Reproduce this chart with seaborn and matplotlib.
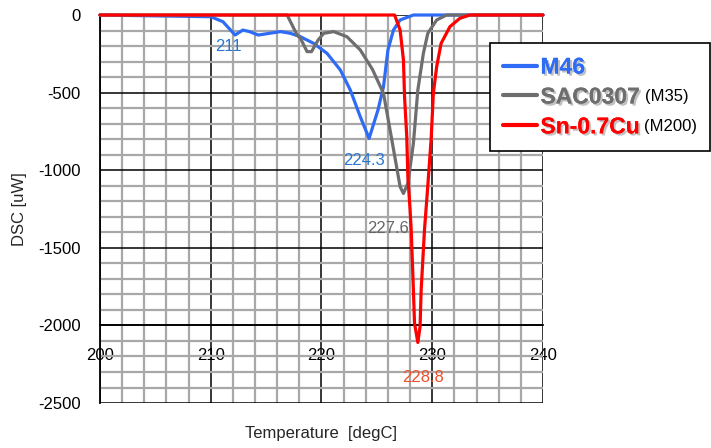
import pandas as pd
import matplotlib
matplotlib.use("Agg")
import matplotlib.pyplot as plt
import matplotlib.patheffects as pe
from matplotlib.lines import Line2D
from matplotlib.ticker import MultipleLocator
import seaborn as sns

# DSC curves (temperature degC, heat flow uW)
m46_t = [200, 210.0, 211.1, 212.2, 212.9, 213.5, 214.3, 215.3, 216.3, 217.2, 218.1,
         219.3, 220.5, 221.7, 222.6, 223.5, 224.3, 225.1, 225.6, 226.0, 226.5,
         227.1, 228.3, 240]
m46_v = [0, -11, -43, -129, -97, -107, -129, -118, -107, -118, -140,
         -183, -247, -354, -483, -655, -795, -612, -462, -225, -97,
         -32, 0, 0]

sac_t = [200, 216.9, 217.8, 218.1, 218.7, 219.1, 219.7, 220.2, 221.1, 222.3, 223.5,
         224.6, 225.6, 226.3, 227.1, 227.4, 227.8, 228.3, 228.7, 229.2, 229.6,
         230.4, 231.3, 240]
sac_v = [0, 0, -129, -150, -236, -236, -161, -118, -107, -140, -225,
         -350, -505, -784, -1106, -1150, -1085, -827, -483, -247, -118,
         -32, 0, 0]

cu_t = [200, 226.6, 227.1, 227.4, 227.5, 227.7, 227.8, 228.0, 228.1, 228.3, 228.4,
        228.7, 228.9, 229.0, 229.3, 229.6, 229.9, 230.1, 230.4, 230.8, 231.6,
        232.5, 233.4, 240]
cu_v = [0, 0, -97, -290, -526, -784, -1042, -1256, -1385, -1772, -1986,
        -2110, -2008, -1772, -1385, -1100, -800, -505, -333, -183, -75,
        -21, 0, 0]

series = ["M46", "SAC0307", "Sn-0.7Cu"]
suffix = ["", "(M35)", "(M200)"]
colors = ["#2f6cf5", "#6e6e6e", "#ff0000"]

peak_labels = ["211", "224.3", "227.6", "228.8"]
peak_pos = [(211.6, -205), (223.8, -935), (226.0, -1375), (229.2, -2335)]
peak_colors = ["#2a76d2", "#2a76d2", "#666666", "#f0502a"]

df = pd.concat([
    pd.DataFrame({"T": m46_t, "DSC": m46_v, "name": series[0]}),
    pd.DataFrame({"T": sac_t, "DSC": sac_v, "name": series[1]}),
    pd.DataFrame({"T": cu_t, "DSC": cu_v, "name": series[2]}),
])

sns.set_theme(style="white")
plt.rcParams["font.family"] = ["Liberation Sans", "DejaVu Sans"]
plt.rcParams["axes.unicode_minus"] = False

fig = plt.figure(figsize=(7.11, 4.48), dpi=100)
ax = fig.add_axes([0.1406, 0.1004, 0.6231, 0.8661])

sns.lineplot(data=df, x="T", y="DSC", hue="name", palette=colors, sort=False,
             estimator=None, linewidth=2.3, legend=False, ax=ax)
for ln in ax.get_lines():
    ln.set_clip_on(False)
    ln.set_zorder(5)
    ln.set_solid_joinstyle("round")

ax.set_xlim(200, 240)
ax.set_ylim(-2500, 0)
ax.xaxis.set_major_locator(MultipleLocator(10))
ax.xaxis.set_minor_locator(MultipleLocator(2))
ax.yaxis.set_major_locator(MultipleLocator(500))
ax.yaxis.set_minor_locator(MultipleLocator(100))
ax.grid(which="minor", color="#a8a8a8", linewidth=1.6)
ax.grid(which="major", color="black", linewidth=1.1)
ax.set_axisbelow(True)

# x axis sits on the -2000 line, like the original
ax.spines["bottom"].set_position(("data", -2000))
ax.spines["bottom"].set_color("black")
ax.spines["left"].set_color("black")
ax.spines["left"].set_linewidth(1.3)
ax.spines["top"].set_visible(False)
ax.spines["right"].set_visible(False)
ax.tick_params(axis="both", which="both", length=0, labelsize=12, colors="black")
ax.tick_params(axis="x", pad=16)
ax.tick_params(axis="y", pad=14)

ax.set_xlabel("Temperature  [degC]", fontsize=12)
ax.xaxis.set_label_coords(0.5, -0.058)
ax.set_ylabel("DSC [uW]", fontsize=12, labelpad=7.5)

for txt, (x, y), c in zip(peak_labels, peak_pos, peak_colors):
    ax.text(x, y, txt, color=c, fontsize=12, ha="center", va="center", zorder=6)

# legend box
shadow = [pe.withSimplePatchShadow(offset=(1.5, -1.5), shadow_rgbFace="#bbbbbb", alpha=0.9),
          pe.Normal()]
handles = [Line2D([], [], color=c, linewidth=3) for c in colors]
leg = fig.legend(handles, series, loc="upper left",
                 bbox_to_anchor=(490 / 711, 1 - 43 / 448 - 0.01, 220 / 711, 0.01), mode="expand",
                 frameon=True, fancybox=False, edgecolor="black", framealpha=1,
                 handlelength=1.5, handletextpad=0.15, labelspacing=0.3,
                 borderpad=0.55, borderaxespad=0, prop={"weight": "bold", "size": 16.5})
leg.get_frame().set_linewidth(1.2)
for t, c in zip(leg.get_texts(), colors):
    t.set_color(c)
    t.set_path_effects(shadow)

fig.canvas.draw()
for t, s in zip(leg.get_texts(), suffix):
    if s:
        bb = t.get_window_extent()
        fig.text((bb.x1 + 5) / fig.bbox.width, (bb.y0 + 4) / fig.bbox.height, s,
                 fontsize=12, color="black", ha="left", va="bottom", zorder=10)

fig.savefig("out.png", dpi=100)
